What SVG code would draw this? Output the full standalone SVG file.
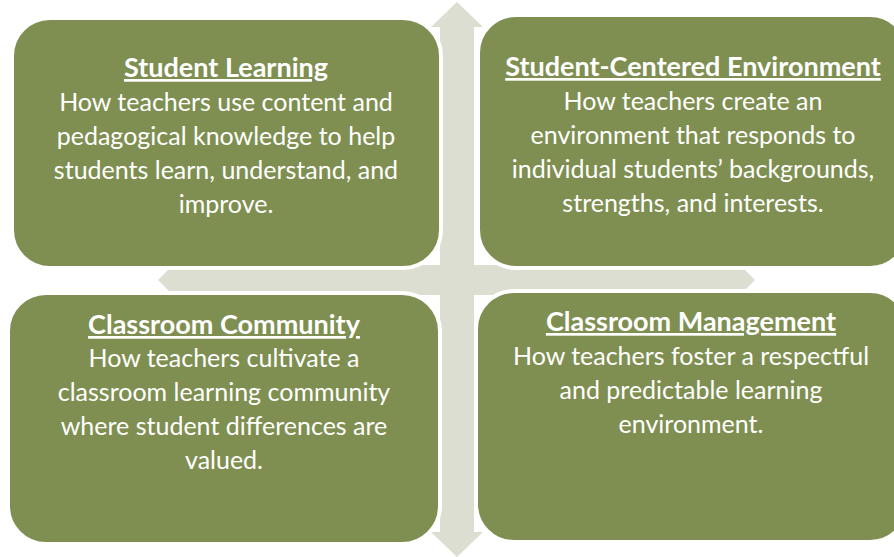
<svg xmlns="http://www.w3.org/2000/svg" width="894" height="557" viewBox="0 0 894 557">
<style>
.box{fill:#7F8F51;stroke:#FFFFFF;stroke-width:4}
.arrow{fill:#DBDED0;stroke:none}
text{font-family:Lato,"Open Sans",sans-serif;font-size:25px;fill:#FFFFFF;text-anchor:middle}
.title{font-weight:bold;font-size:27px;text-decoration:underline}
</style>
<rect width="894" height="557" fill="#FFFFFF"/>
<g id="connectors">
<polygon class="arrow" points="457,2 483,27 474,27 474,532 483,532 457,557 431,532 440,532 440,27 431,27"/>
<polygon class="arrow" points="158,280 183,255 183,265 730,265 730,255 755,280 730,305 730,295 183,295 183,305"/>
</g>
<g id="student-learning">
<rect class="box" x="12" y="18" width="429" height="250" rx="38"/>
<text class="title" x="226" y="77">Student Learning</text>
<text x="226" y="111">How teachers use content and</text>
<text x="226" y="145">pedagogical knowledge to help</text>
<text x="226" y="179">students learn, understand, and</text>
<text x="226" y="213">improve.</text>
</g>
<g id="student-centered-environment">
<rect class="box" x="478" y="15" width="430" height="253" rx="38"/>
<text class="title" x="693" y="76">Student-Centered Environment</text>
<text x="693" y="110">How teachers create an</text>
<text x="693" y="144">environment that responds to</text>
<text x="693" y="178">individual students’ backgrounds,</text>
<text x="693" y="212">strengths, and interests.</text>
</g>
<g id="classroom-community">
<rect class="box" x="8" y="293" width="432" height="251" rx="38"/>
<text class="title" x="224" y="334">Classroom Community</text>
<text x="224" y="367">How teachers cultivate a</text>
<text x="224" y="401">classroom learning community</text>
<text x="224" y="435">where student differences are</text>
<text x="224" y="469">valued.</text>
</g>
<g id="classroom-management">
<rect class="box" x="476" y="291" width="432" height="251" rx="38"/>
<text class="title" x="691" y="331">Classroom Management</text>
<text x="691" y="365">How teachers foster a respectful</text>
<text x="691" y="399">and predictable learning</text>
<text x="691" y="433">environment.</text>
</g>
</svg>
